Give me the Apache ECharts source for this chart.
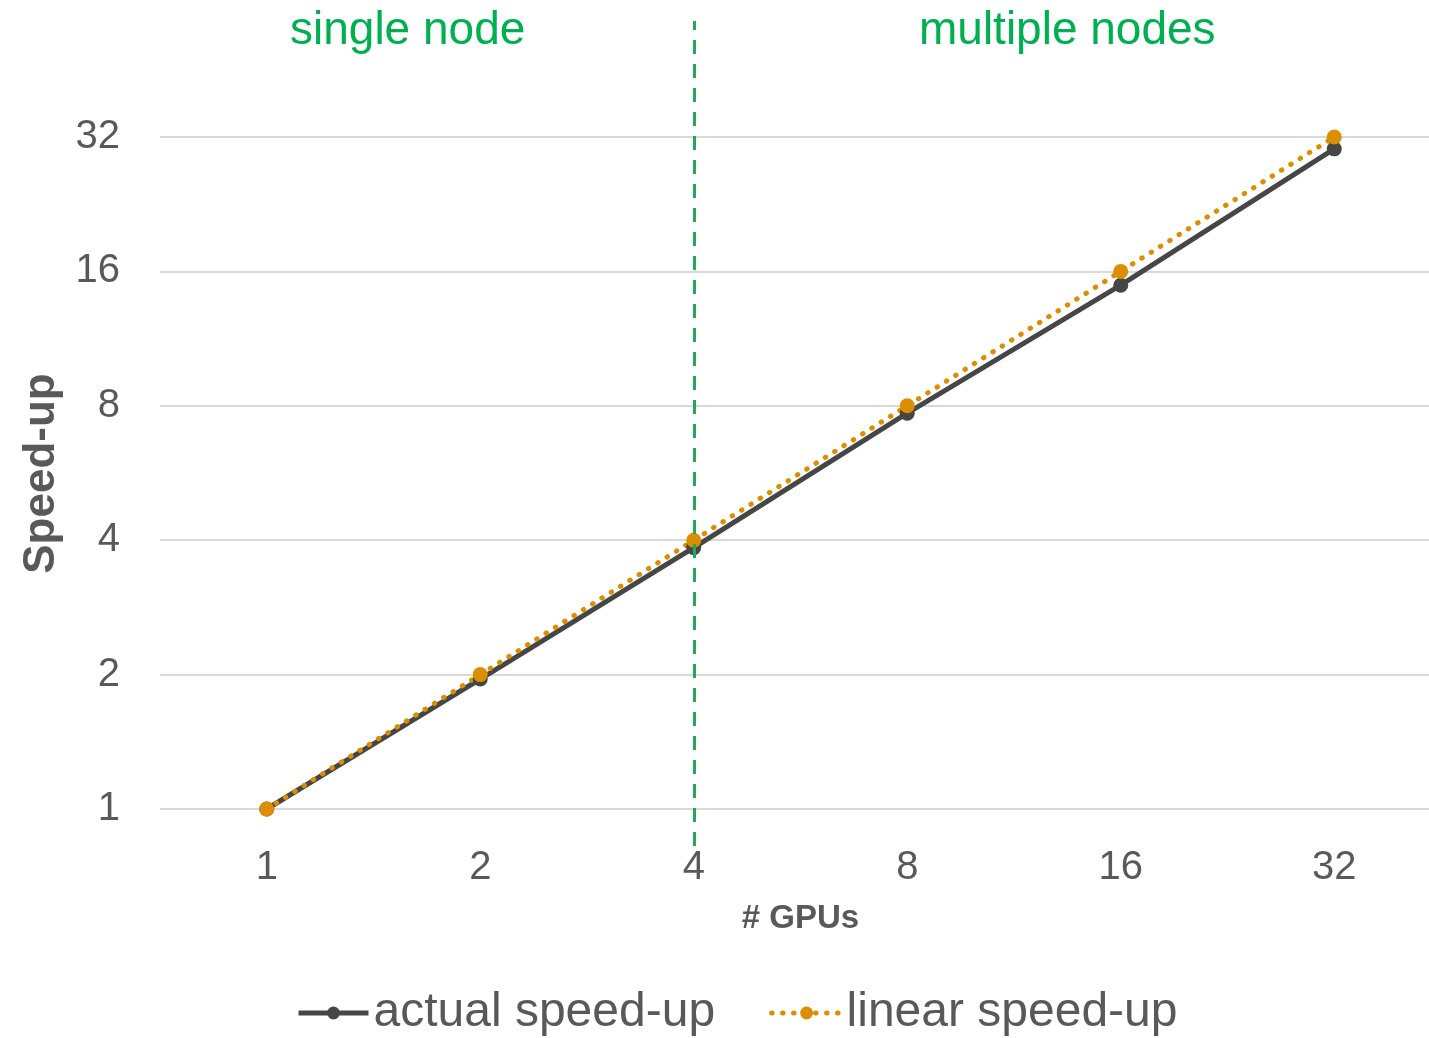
<!DOCTYPE html>
<html>
<head>
<meta charset="utf-8">
<script src="https://cdn.jsdelivr.net/npm/echarts@6/dist/echarts.min.js"></script>
<style>html,body{margin:0;padding:0;background:#fff;}#chart{width:1429px;height:1038px;}</style>
</head>
<body>
<div id="chart"></div>
<script>
var gpus = ['1', '2', '4', '8', '16', '32'];
var actualSpeedup = [1, 1.955, 3.85, 7.7, 14.9, 30.1];
var linearSpeedup = [1, 2, 4, 8, 16, 32];
var yTicks = [1, 2, 4, 8, 16, 32];
var splitAt = '4';

var FONT = '"Liberation Sans", Arial, sans-serif';
var TEXT = '#595959';
var chart = echarts.init(document.getElementById('chart'));
chart.setOption({
  backgroundColor: '#ffffff',
  textStyle: { fontFamily: FONT },
  animation: false,
  grid: { left: 160, top: 21, width: 1281, height: 825, containLabel: false, outerBoundsMode: 'none' },
  xAxis: {
    type: 'category',
    data: gpus,
    boundaryGap: true,
    axisLine: { show: false },
    axisTick: { show: false },
    axisLabel: { color: TEXT, fontSize: 40, fontFamily: FONT, margin: 2 },
    name: '# GPUs',
    nameLocation: 'middle',
    nameGap: 56,
    nameTextStyle: { color: TEXT, fontSize: 33, fontWeight: 'bold', fontFamily: FONT }
  },
  yAxis: {
    type: 'log',
    logBase: 2,
    min: Math.pow(2, -0.2753),
    max: Math.pow(2, 5.863),
    axisLine: { show: false },
    axisTick: { show: false },
    splitLine: { show: true, showMinLine: false, showMaxLine: false, lineStyle: { color: '#D9D9D9', width: 2 } },
    axisLabel: {
      color: TEXT, fontSize: 40, fontFamily: FONT, margin: 40,
      showMinLabel: false, showMaxLabel: false,
      formatter: function (v) {
        var r = Math.round(v);
        return yTicks.indexOf(r) >= 0 ? String(r) : '';
      }
    },
    name: 'Speed-up',
    nameLocation: 'middle',
    nameGap: 96,
    nameTextStyle: { color: TEXT, fontSize: 44, fontWeight: 'bold', fontFamily: FONT, padding: [0, 80, 0, 0] }
  },
  legend: {
    bottom: -4,
    left: 291,
    itemWidth: 70,
    itemHeight: 16,
    itemGap: 54,
    lineStyle: { width: 5 },
    textStyle: { color: TEXT, fontSize: 48, fontFamily: FONT },
    data: ['actual speed-up', 'linear speed-up']
  },
  graphic: [
    { type: 'text', left: 290, top: 8, style: { text: 'single node', fill: '#00B050', font: '46px "Liberation Sans", Arial, sans-serif' } },
    { type: 'text', left: 919, top: 8, style: { text: 'multiple nodes', fill: '#00B050', font: '46px "Liberation Sans", Arial, sans-serif' } }
  ],
  series: [
    {
      name: 'actual speed-up',
      type: 'line',
      data: actualSpeedup,
      symbol: 'circle',
      symbolSize: 15,
      color: '#464646',
      lineStyle: { color: '#464646', width: 5 },
      itemStyle: { color: '#464646' },
      markLine: {
        silent: true,
        symbol: 'none',
        label: { show: false },
        lineStyle: { color: '#21A957', width: 3, type: [14, 10] },
        data: [{ xAxis: splitAt }]
      }
    },
    {
      name: 'linear speed-up',
      type: 'line',
      data: linearSpeedup,
      symbol: 'circle',
      symbolSize: 15,
      color: '#DB8E00',
      lineStyle: { color: '#DB8E00', width: 5, type: [0.5, 10.5], cap: 'round' },
      itemStyle: { color: '#DB8E00' },
      z: 3
    }
  ]
});
</script>
</body>
</html>
